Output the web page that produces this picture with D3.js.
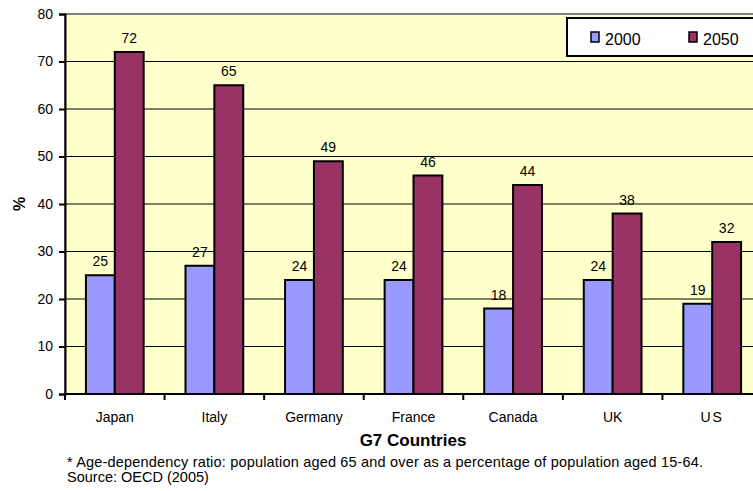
<!DOCTYPE html>
<html><head><meta charset="utf-8">
<script src="https://cdn.jsdelivr.net/npm/d3@7"></script>
<style>body{margin:0;background:#fff;}svg{display:block;font-family:"Liberation Sans",Arial,sans-serif;}</style>
</head><body><svg id="c" width="753" height="491"></svg>
<script>
const categories = ["Japan","Italy","Germany","France","Canada","UK","US"];
const series = ["2000","2050"];
const values2000 = [25,27,24,24,18,24,19];
const values2050 = [72,65,49,46,44,38,32];
const yTicks = [0,10,20,30,40,50,60,70,80];
const colors = ["#9999FF","#993366"];

const svg = d3.select("#c");
const L = 65, R = 762, T = 14, B = 394;
const x0 = d3.scaleBand().domain(categories).range([L,R]).paddingInner(0.42).paddingOuter(0.21);
const x1 = d3.scaleBand().domain(series).range([0,x0.bandwidth()]);
const y = d3.scaleLinear().domain([0,80]).range([B,T]);
const data = categories.map((c,i)=>({c, v:[values2000[i],values2050[i]]}));

svg.append("rect").attr("x",L).attr("y",T).attr("width",R-L).attr("height",B-T)
  .attr("fill","#FFFFCC").attr("stroke","#808080").attr("stroke-width",2);

svg.append("g").selectAll("line").data(yTicks.filter(d=>d>0&&d<80)).join("line")
  .attr("x1",L).attr("x2",R).attr("y1",d=>y(d)).attr("y2",d=>y(d))
  .attr("stroke","#000").attr("stroke-width",1);

const g = svg.append("g").selectAll("g").data(data).join("g")
  .attr("transform",d=>`translate(${x0(d.c)},0)`);
g.selectAll("rect").data(d=>d.v.map((v,i)=>({s:series[i],v,i}))).join("rect")
  .attr("x",d=>x1(d.s)).attr("width",x1.bandwidth())
  .attr("y",d=>y(d.v)).attr("height",d=>B-y(d.v))
  .attr("fill",d=>colors[d.i]).attr("stroke","#000").attr("stroke-width",2);
g.selectAll("text").data(d=>d.v.map((v,i)=>({s:series[i],v,i}))).join("text")
  .attr("x",d=>x1(d.s)+x1.bandwidth()/2).attr("y",d=>y(d.v)-9)
  .attr("text-anchor","middle").attr("font-size",14).attr("fill","#000")
  .text(d=>d.v);

// Y axis
const ya = svg.append("g").attr("transform",`translate(${L},0)`)
  .call(d3.axisLeft(y).tickValues(yTicks).tickSize(6).tickPadding(6));
ya.select(".domain").attr("stroke","#000").attr("stroke-width",2);
ya.selectAll(".tick line").attr("stroke","#000").attr("stroke-width",2);
ya.selectAll("text").attr("font-size",14).attr("fill","#000").attr("font-family","Liberation Sans, Arial, sans-serif");

// X axis
const step = x0.step();
const xa = svg.append("g").attr("transform",`translate(0,${B})`);
xa.append("line").attr("x1",L).attr("x2",R).attr("stroke","#000").attr("stroke-width",2);
xa.selectAll("line.t").data(d3.range(categories.length+1)).join("line").attr("class","t")
  .attr("x1",i=>L+i*step).attr("x2",i=>L+i*step).attr("y1",0).attr("y2",6)
  .attr("stroke","#000").attr("stroke-width",2);
xa.selectAll("text").data(categories).join("text")
  .attr("x",d=>x0(d)+x0.bandwidth()/2).attr("y",28)
  .attr("text-anchor","middle").attr("font-size",14).attr("fill","#000")
  .attr("letter-spacing",d=>d==="US"?"2px":null)
  .text(d=>d);

svg.append("text").attr("x",413).attr("y",446).attr("text-anchor","middle")
  .attr("font-size",17).attr("font-weight","bold").text("G7 Countries");
svg.append("text").attr("transform","translate(25,204) rotate(-90)").attr("text-anchor","middle")
  .attr("font-size",16).attr("font-weight","bold").text("%");

svg.append("text").attr("x",67).attr("y",467).attr("font-size",14.5)
  .attr("textLength",636).attr("lengthAdjust","spacing")
  .text("* Age-dependency ratio: population aged 65 and over as a percentage of population aged 15-64.");
svg.append("text").attr("x",67).attr("y",482).attr("font-size",14.5).text("Source: OECD (2005)");

// Legend
const lg = svg.append("g");
lg.append("rect").attr("x",567).attr("y",18).attr("width",200).attr("height",38)
  .attr("fill","#fff").attr("stroke","#000").attr("stroke-width",2);
const li = lg.selectAll("g").data(series).join("g")
  .attr("transform",(d,i)=>`translate(${591+i*98},32)`);
li.append("rect").attr("width",8).attr("height",10).attr("fill",(d,i)=>colors[i]).attr("stroke","#000").attr("stroke-width",1.5);
li.append("text").attr("x",14).attr("y",13).attr("font-size",16).text(d=>d);
</script></body></html>
